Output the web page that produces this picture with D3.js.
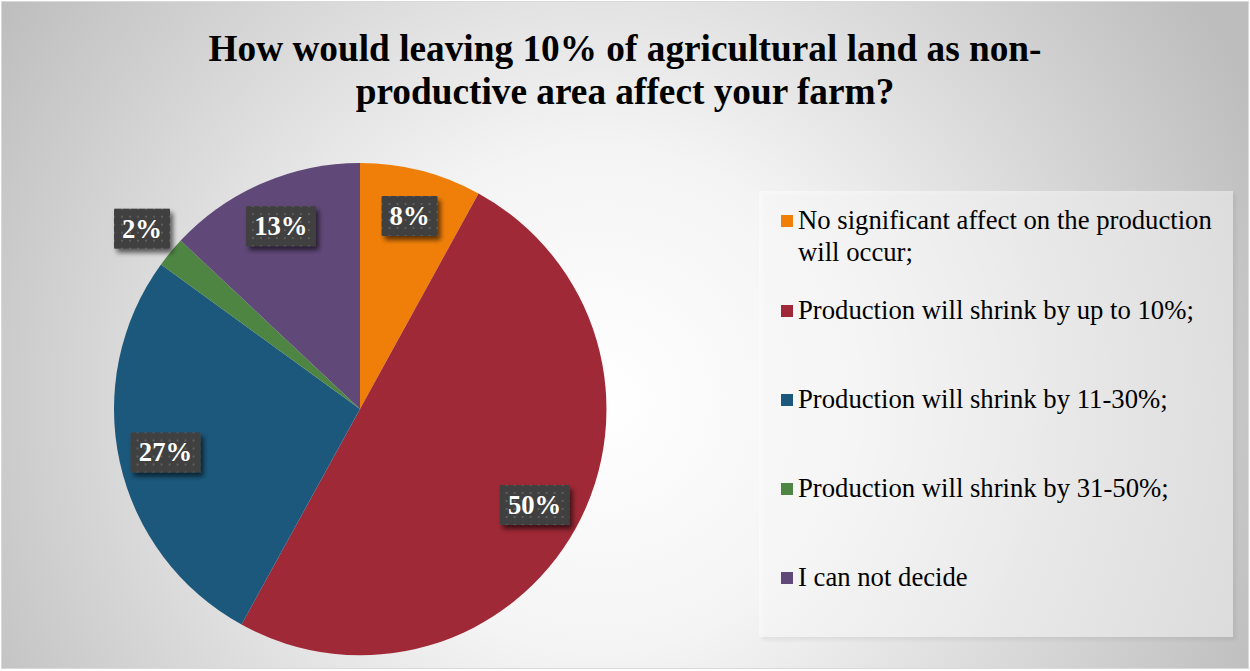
<!DOCTYPE html>
<html>
<head>
<meta charset="utf-8">
<script src="https://cdn.jsdelivr.net/npm/d3@7"></script>
</head>
<body style="margin:0">
<svg id="farmPie" width="1250" height="671" style="display:block"></svg>
<script>
// Survey answers and their shares (%)
const categories = [
  "No significant affect on the production will occur;",
  "Production will shrink by up to 10%;",
  "Production will shrink by 11-30%;",
  "Production will shrink by 31-50%;",
  "I can not decide"
];
const shares = [8, 50, 27, 2, 13];
const sliceColors = ["#F07F09", "#9F2936", "#1B587C", "#4E8542", "#604878"];
const legendLines = [
  ["No significant affect on the production", "will occur;"],
  ["Production will shrink by up to 10%;"],
  ["Production will shrink by 11-30%;"],
  ["Production will shrink by 31-50%;"],
  ["I can not decide"]
];
const titleLines = [
  "How would leaving 10% of agricultural land as non-",
  "productive area affect your farm?"
];

const serifFace = '"Liberation Serif", Tinos, "Times New Roman", serif';
const W = 1250, H = 671;
const svg = d3.select("#farmPie");
const defs = svg.append("defs");

function serif(sel) {
  return sel.attr("font-family", serifFace).style("font-family", serifFace, "important");
}

// Background: soft radial grey fade
const bg = defs.append("radialGradient").attr("id", "bgGrad")
  .attr("gradientUnits", "userSpaceOnUse")
  .attr("cx", 600).attr("cy", 400).attr("r", 720);
bg.append("stop").attr("offset", "0").attr("stop-color", "#ffffff");
bg.append("stop").attr("offset", "0.35").attr("stop-color", "#f4f4f4");
bg.append("stop").attr("offset", "1").attr("stop-color", "#bdbdbd");

// Dotted texture for the value label boxes
const pat = defs.append("pattern").attr("id", "dots")
  .attr("patternUnits", "userSpaceOnUse").attr("width", 8).attr("height", 8);
pat.append("rect").attr("width", 8).attr("height", 8).attr("fill", "#3f3f3f");
pat.append("rect").attr("x", 3).attr("y", 3).attr("width", 2).attr("height", 2).attr("fill", "#5e5e5e");

const shadow = defs.append("filter").attr("id", "shadow")
  .attr("x", "-30%").attr("y", "-30%").attr("width", "160%").attr("height", "170%");
shadow.append("feGaussianBlur").attr("in", "SourceAlpha").attr("stdDeviation", 2.5).attr("result", "b");
shadow.append("feOffset").attr("in", "b").attr("dx", 3).attr("dy", 4).attr("result", "o");
shadow.append("feComponentTransfer").attr("in", "o").attr("result", "s")
  .append("feFuncA").attr("type", "linear").attr("slope", 0.6);
const merge = shadow.append("feMerge");
merge.append("feMergeNode").attr("in", "s");
merge.append("feMergeNode").attr("in", "SourceGraphic");

const legendShadow = defs.append("filter").attr("id", "legShadow")
  .attr("x", "-5%").attr("y", "-5%").attr("width", "115%").attr("height", "115%");
legendShadow.append("feGaussianBlur").attr("in", "SourceAlpha").attr("stdDeviation", 2).attr("result", "b");
legendShadow.append("feOffset").attr("in", "b").attr("dx", 3).attr("dy", 3).attr("result", "o");
legendShadow.append("feComponentTransfer").attr("in", "o").attr("result", "s")
  .append("feFuncA").attr("type", "linear").attr("slope", 0.15);
const lm = legendShadow.append("feMerge");
lm.append("feMergeNode").attr("in", "s");
lm.append("feMergeNode").attr("in", "SourceGraphic");

svg.append("rect").attr("x", 0).attr("y", 0).attr("width", W).attr("height", H).attr("fill", "#ffffff");
svg.append("rect").attr("x", 1.5).attr("y", 1.5).attr("width", W - 3).attr("height", H - 4)
  .attr("fill", "url(#bgGrad)").attr("stroke", "#d9d9d9").attr("stroke-width", 1);

// Title, one text element per line
svg.selectAll("text.title").data(titleLines).join("text")
  .attr("class", "title")
  .attr("x", 625).attr("y", (d, i) => 61 + i * 43)
  .attr("text-anchor", "middle")
  .attr("font-size", 37.3).attr("font-weight", "bold").attr("fill", "#000")
  .call(serif)
  .text(d => d);

// Pie
const cx = 360, cy = 409, R = 246;
const pie = d3.pie().sort(null).value(d => d);
const arcs = pie(shares);
const arc = d3.arc().innerRadius(0).outerRadius(R);
const g = svg.append("g").attr("transform", `translate(${cx},${cy})`);
g.selectAll("path.slice").data(arcs).join("path")
  .attr("class", "slice")
  .attr("d", arc)
  .attr("fill", (d, i) => sliceColors[i]);

// Value labels: inside the slice, small slices pushed outside
const labelArc = d3.arc().innerRadius(R * 0.81).outerRadius(R * 0.81);
const outerArc = d3.arc().innerRadius(R * 1.15).outerRadius(R * 1.15);
const labels = g.selectAll("g.lbl").data(arcs).join("g")
  .attr("class", "lbl")
  .attr("transform", d => {
    const p = (d.data < 5 ? outerArc : labelArc).centroid(d);
    return `translate(${p[0]},${p[1]})`;
  });
labels.append("rect")
  .attr("x", d => -(String(d.data).length > 1 ? 70 : 56) / 2)
  .attr("y", -20)
  .attr("width", d => String(d.data).length > 1 ? 70 : 56)
  .attr("height", 40)
  .attr("fill", "url(#dots)").attr("filter", "url(#shadow)");
labels.append("text")
  .attr("text-anchor", "middle").attr("y", 9)
  .attr("font-size", 26.7).attr("font-weight", "bold").attr("fill", "#fff")
  .call(serif)
  .text(d => d.data + "%");

// Legend
svg.append("rect").attr("x", 759).attr("y", 191).attr("width", 474).attr("height", 446)
  .attr("fill", "#ffffff").attr("fill-opacity", 0.45).attr("filter", "url(#legShadow)");
const itemY = [221, 311, 400, 489, 578];
const rows = svg.selectAll("g.legrow").data(categories).join("g")
  .attr("class", "legrow")
  .attr("transform", (d, i) => `translate(0,${itemY[i]})`);
rows.append("rect").attr("x", 781).attr("y", -6).attr("width", 12).attr("height", 12)
  .attr("fill", (d, i) => sliceColors[i]);
rows.each(function(d, i) {
  d3.select(this).selectAll("text").data(legendLines[i]).join("text")
    .attr("x", 798).attr("y", (ln, j) => 8 + j * 32)
    .attr("font-size", 26.7).attr("fill", "#000")
    .call(serif)
    .text(ln => ln);
});
</script>
</body>
</html>
